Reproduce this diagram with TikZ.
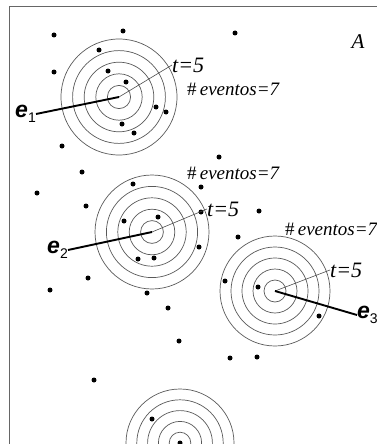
\documentclass[tikz,border=0pt]{standalone}
\usepackage{fontspec}
\setmainfont{Liberation Serif}
\newfontfamily\labelsans{Liberation Sans}
\usetikzlibrary{positioning}

% label of an entity: bold italic e with its index
\newcommand{\entity}[1]{\textbf{\textit{e}}\raisebox{-5pt}{\fontsize{14}{14}\selectfont #1}}

\begin{document}
\begin{tikzpicture}[x=1pt, y=-1pt,
  ring/.style={draw=black!65, line width=0.7pt},
  dot/.style={circle, fill=black, inner sep=0pt, minimum size=5pt},
  tline/.style={draw=black!70, line width=0.6pt},
  eline/.style={draw=black, line width=1.9pt},
  lbl/.style={inner sep=0pt, font=\fontsize{22}{26}\selectfont},
  elbl/.style={inner sep=0pt, font=\labelsans\fontsize{23}{26}\selectfont},
  cnt/.style={inner sep=0pt, font=\fontsize{19}{23}\selectfont}]
  \useasboundingbox (0,0) rectangle (377,444);
  % frame of the region A
  \draw[black!60, line width=0.8pt] (9,444) -- (9,6) -- (377,6);
  \node[lbl, font=\fontsize{21}{25}\selectfont] (A) at (358,42) {\textit{A}};

  % centres of the targets
  \coordinate (c1) at (119,97);
  \coordinate (c2) at (152,232);
  \coordinate (c3) at (275,291);
  \coordinate (c4) at (180,443);
  % each target: five rings, step \s
  \foreach \c/\s in {c1/11.6, c2/11.4, c3/11, c4/10.8}
    \foreach \k in {1,...,5}
      \draw[ring] (\c) circle [radius={\k*\s}];

  % events
  \foreach \p [count=\i] in {(54,35), (123,31), (235,33), (54,72), (99,50),
      (108,71), (126,82), (156,107), (166,112), (122,124), (134,133),
      (62,146), (219,157), (82,172), (37,193), (133,184), (201,187),
      (86,206), (259,211), (201,212), (124,221), (158,217), (199,247),
      (138,259), (154,258), (238,237), (88,278), (50,290), (147,293),
      (225,281), (258,287), (168,308), (319,316), (179,341), (230,358),
      (257,357), (94,380), (152,419), (180,443)}
    \node[dot] (d\i) at \p {};

  % target 1
  \node[lbl, anchor=west] (t1) at (172,65) {\textit{t=5}};
  \node[cnt, anchor=west] (n1) at (187,89) {\#\,\textit{eventos=7}};
  \node[elbl, anchor=east] (e1) at (36,114) {\entity{1}};
  \draw[tline] (c1) -- (t1.west);
  \draw[eline] (c1) -- (e1.east);

  % target 2
  \node[lbl, anchor=west] (t2) at (207,209) {\textit{t=5}};
  \node[cnt, anchor=west] (n2) at (187,173) {\#\,\textit{eventos=7}};
  \node[elbl, anchor=east] (e2) at (68,250) {\entity{2}};
  \draw[tline] (c2) -- (t2.west);
  \draw[eline] (c2) -- (e2.east);

  % target 3
  \node[lbl, anchor=west] (t3) at (330,270) {\textit{t=5}};
  \node[cnt, anchor=west] (n3) at (285,229) {\#\,\textit{eventos=7}};
  \node[elbl, anchor=west] (e3) at (357,315) {\entity{3}};
  \draw[tline] (c3) -- (t3.west);
  \draw[eline] (c3) -- (e3.west);
\end{tikzpicture}
\end{document}
